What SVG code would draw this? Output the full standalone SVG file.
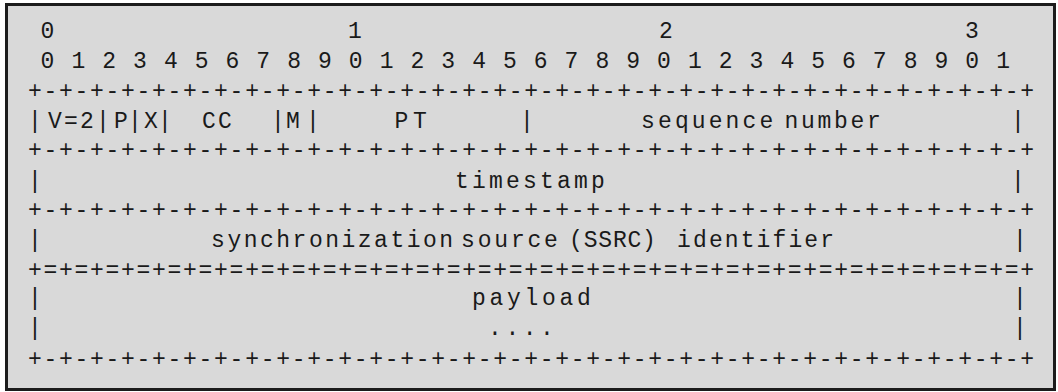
<svg xmlns="http://www.w3.org/2000/svg" width="1058" height="392" viewBox="0 0 1058 392">
  <style>
    text { font-family: "Liberation Mono", "DejaVu Sans Mono", monospace; font-size: 23px; fill: #1a1a1a; }
    .c { text-anchor: middle; }
    .rule { letter-spacing: 1.7px; }
    .bits { letter-spacing: 1.61px; }
  </style>

  <!-- frame -->
  <rect x="6.5" y="4.5" width="1048" height="385" fill="#d9d9d9" stroke="#1c1c1c" stroke-width="3"/>

  <!-- bit ruler -->
  <g id="ruler">
    <text class="c" x="47.5" y="38">0</text>
    <text class="c" x="355" y="38">1</text>
    <text class="c" x="666" y="38">2</text>
    <text class="c" x="972" y="38">3</text>
    <text class="bits" x="40.6" y="67.5">0 1 2 3 4 5 6 7 8 9 0 1 2 3 4 5 6 7 8 9 0 1 2 3 4 5 6 7 8 9 0 1</text>
  </g>

  <!-- separator lines -->
  <g id="rules">
    <text class="rule" x="28.1" y="97.5">+-+-+-+-+-+-+-+-+-+-+-+-+-+-+-+-+-+-+-+-+-+-+-+-+-+-+-+-+-+-+-+-+</text>
    <text class="rule" x="28.1" y="156.5">+-+-+-+-+-+-+-+-+-+-+-+-+-+-+-+-+-+-+-+-+-+-+-+-+-+-+-+-+-+-+-+-+</text>
    <text class="rule" x="28.1" y="216.5">+-+-+-+-+-+-+-+-+-+-+-+-+-+-+-+-+-+-+-+-+-+-+-+-+-+-+-+-+-+-+-+-+</text>
    <text class="rule" x="28.1" y="276.5">+=+=+=+=+=+=+=+=+=+=+=+=+=+=+=+=+=+=+=+=+=+=+=+=+=+=+=+=+=+=+=+=+</text>
    <text class="rule" x="28.1" y="366">+-+-+-+-+-+-+-+-+-+-+-+-+-+-+-+-+-+-+-+-+-+-+-+-+-+-+-+-+-+-+-+-+</text>
  </g>

  <!-- first header word -->
  <g id="word1">
    <text class="c" x="35" y="128">|</text>
    <text x="48.1" y="128" style="letter-spacing:2.2px">V=2</text>
    <text class="c" x="103" y="128">|</text>
    <text class="c" x="121" y="128">P</text>
    <text class="c" x="135" y="128">|</text>
    <text class="c" x="151" y="128">X</text>
    <text class="c" x="165" y="128">|</text>
    <text x="202.1" y="128" style="letter-spacing:2.2px">CC</text>
    <text class="c" x="278" y="128">|</text>
    <text class="c" x="293" y="128">M</text>
    <text class="c" x="313" y="128">|</text>
    <text class="c" x="401.5" y="128">P</text>
    <text class="c" x="420" y="128">T</text>
    <text class="c" x="527" y="128">|</text>
    <text x="641.1" y="128" style="letter-spacing:3.1px">sequence</text>
    <text x="784.6" y="128" style="letter-spacing:2.7px">number</text>
    <text class="c" x="1018" y="128">|</text>
  </g>

  <!-- timestamp word -->
  <g id="timestamp">
    <text class="c" x="35" y="188">|</text>
    <text x="455.1" y="188" style="letter-spacing:3.2px">timestamp</text>
    <text class="c" x="1018" y="188">|</text>
  </g>

  <!-- SSRC word -->
  <g id="ssrc">
    <text class="c" x="35" y="247">|</text>
    <text x="211.1" y="247" style="letter-spacing:2.5px">synchronization</text>
    <text x="461.1" y="247" style="letter-spacing:2.8px">source</text>
    <text x="569.1" y="247" style="letter-spacing:0.8px">(SSRC)</text>
    <text x="677.1" y="247" style="letter-spacing:2.1px">identifier</text>
    <text class="c" x="1020" y="247">|</text>
  </g>

  <!-- payload area -->
  <g id="payload">
    <text class="c" x="35" y="305">|</text>
    <text x="472.1" y="305" style="letter-spacing:3.7px">payload</text>
    <text class="c" x="1020" y="305">|</text>
    <text class="c" x="35" y="335">|</text>
    <text x="488.1" y="335" style="letter-spacing:3.5px">....</text>
    <text class="c" x="1020" y="335">|</text>
  </g>
</svg>
